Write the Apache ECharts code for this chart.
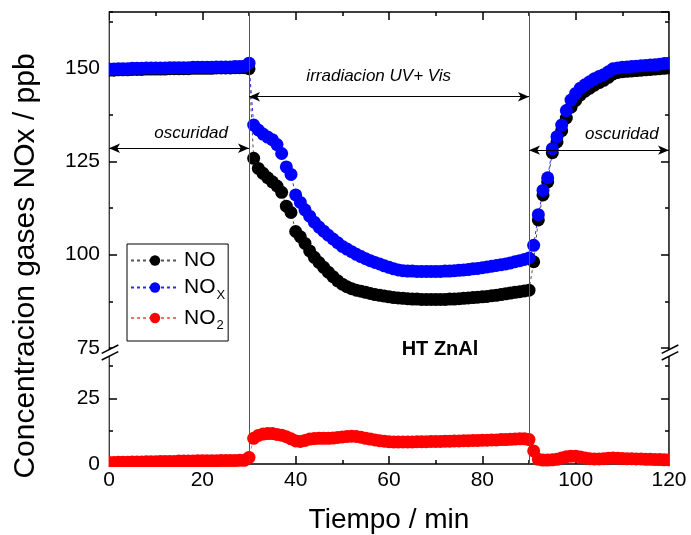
<!DOCTYPE html>
<html>
<head>
<meta charset="utf-8">
<script src="https://cdn.jsdelivr.net/npm/echarts@6/dist/echarts.min.js"></script>
<style>
html,body{margin:0;padding:0;background:#fff;}
#c{width:691px;height:535px;}
</style>
</head>
<body>
<div id="c"></div>
<script>
// Tiempo / min
const tiempo = [
  0,1,2,3,4,5,6,7,8,9,10,11,12,13,14,15,16,17,18,19,
  20,21,22,23,24,25,26,27,28,29,30,31,32,33,34,35,36,37,38,39,
  40,41,42,43,44,45,46,47,48,49,50,51,52,53,54,55,56,57,58,59,
  60,61,62,63,64,65,66,67,68,69,70,71,72,73,74,75,76,77,78,79,
  80,81,82,83,84,85,86,87,88,89,90,91,92,93,94,95,96,97,98,99,
  100,101,102,103,104,105,106,107,108,109,110,111,112,113,114,115,116,117,118,119,120
];
// NO / ppb
const no = [
  149.4,149.4,149.5,149.5,149.5,149.6,149.6,149.6,149.7,149.7,
  149.7,149.7,149.7,149.8,149.8,149.8,149.8,149.8,149.9,149.9,
  149.9,149.9,149.9,150.0,150.0,150.0,150.0,150.1,150.1,150.1,
  149.8,
  125.8,123.1,121.8,120.6,119.5,118.4,116.7,113.0,111.3,106.2,
  104.8,103.0,101.0,99.3,97.9,96.6,95.3,94.1,93.0,92.1,
  91.4,90.9,90.5,90.2,89.9,89.6,89.3,89.1,88.9,88.7,
  88.5,88.4,88.3,88.2,88.1,88.1,88.0,88.0,88.0,88.0,
  88.0,88.0,88.1,88.1,88.2,88.3,88.4,88.5,88.6,88.7,
  88.8,89.0,89.1,89.3,89.5,89.7,89.9,90.1,90.3,90.5,
  98.1,109.3,116.0,119.5,127.3,130.2,133.2,136.6,139.5,141.3,
  142.8,143.8,144.6,145.4,146.1,146.7,147.5,148.4,148.8,149.0,
  149.1,149.2,149.3,149.4,149.5,149.6,149.7,149.8,149.9,150.0
];
// NOx / ppb
const nox = [
  149.7,149.7,149.8,149.8,149.8,149.9,149.9,149.9,150.0,150.0,
  150.0,150.0,150.0,150.1,150.1,150.1,150.1,150.1,150.2,150.2,
  150.2,150.2,150.2,150.3,150.3,150.3,150.3,150.4,150.4,150.5,
  151.3,
  134.7,133.4,132.3,131.5,130.8,129.5,127.1,123.5,121.5,116.0,
  114.0,112.0,110.3,108.7,107.4,106.3,105.2,104.2,103.2,102.2,
  101.5,100.8,100.1,99.5,98.9,98.4,97.9,97.5,97.0,96.6,
  96.2,95.9,95.7,95.6,95.6,95.5,95.5,95.5,95.5,95.5,
  95.5,95.6,95.6,95.7,95.8,95.9,96.0,96.2,96.3,96.5,
  96.7,96.9,97.1,97.3,97.5,97.8,98.1,98.4,98.7,99.1,
  102.5,110.7,117.2,120.6,128.4,131.6,134.7,138.6,141.4,143.2,
  144.6,145.5,146.3,147.1,147.7,148.2,149.0,149.8,150.0,150.2,
  150.3,150.4,150.5,150.6,150.7,150.8,150.9,151.0,151.2,151.3
];
// NO2 / ppb
const no2 = [
  0.6,0.6,0.7,0.7,0.7,0.8,0.8,0.8,0.9,0.9,
  0.9,1.0,1.0,1.0,1.0,1.1,1.1,1.1,1.1,1.2,
  1.2,1.2,1.2,1.2,1.3,1.3,1.3,1.3,1.4,1.4,
  2.5,
  9.8,10.9,11.4,11.6,11.6,11.3,11.0,10.4,9.6,8.8,
  8.6,9.0,9.5,9.7,9.8,9.8,9.8,9.9,10.1,10.3,
  10.5,10.6,10.5,10.2,9.8,9.5,9.2,8.9,8.7,8.5,
  8.4,8.4,8.4,8.4,8.4,8.5,8.5,8.5,8.6,8.6,
  8.6,8.7,8.7,8.8,8.8,8.9,8.9,9.0,9.0,9.1,
  9.1,9.2,9.2,9.3,9.3,9.4,9.5,9.6,9.6,9.3,
  5.0,1.8,1.5,1.5,1.6,1.8,2.3,2.8,3.0,3.0,
  2.7,2.3,2.0,1.9,1.9,2.0,2.2,2.3,2.2,2.1,
  2.0,2.0,1.9,1.9,1.8,1.8,1.7,1.7,1.6,1.6
];
const xTicks = {min: 0, max: 120, interval: 20};
const upperRange = {min: 75, max: 165};
const lowerRange = {min: 0, max: 44.25};
const seriesNames = ['NO', 'NOx', 'NO2'];
const fases = {inicioUV: 30, finUV: 90};

const FONT = 'Liberation Sans, Arial, sans-serif';
const AX = {color: '#000', width: 1.5};

function xAxis(grid, pos, labels) {
  return {
    type: 'value', gridIndex: grid, position: pos,
    min: xTicks.min, max: xTicks.max, interval: xTicks.interval,
    axisLine: {show: true, onZero: false, lineStyle: AX},
    axisTick: {show: true, inside: true, length: 8, lineStyle: AX},
    minorTick: {show: true, splitNumber: 2, length: 4, lineStyle: AX},
    splitLine: {show: false},
    axisLabel: labels ? {show: true, fontSize: 21, color: '#000', fontFamily: FONT, margin: 6} : {show: false},
    name: labels ? 'Tiempo / min' : '',
    nameLocation: 'middle', nameGap: 42,
    nameTextStyle: {fontSize: 28, color: '#000', fontFamily: FONT}
  };
}
function yAxis(grid, range, pos, major, labels) {
  return {
    type: 'value', gridIndex: grid, position: pos,
    min: range.min, max: range.max, interval: major ? 25 : 12.5,
    axisLine: {show: major, onZero: false, lineStyle: AX},
    axisTick: {show: true, inside: true, length: major ? 8 : 4, lineStyle: AX},
    splitLine: {show: false},
    axisLabel: labels ? {show: true, fontSize: 21, color: '#000', fontFamily: FONT, margin: 9, showMaxLabel: false} : {show: false}
  };
}

const pts = arr => tiempo.map((t, i) => [t, arr[i]]);
const vline = (v) => ({xAxis: v, symbol: 'none', symbolSize: 0, lineStyle: {color: '#555', width: 1, type: 'solid'}});

const option = {
  animation: false,
  backgroundColor: '#fff',
  grid: [
    {left: 109, right: 22, top: 12, height: 336},
    {left: 109, right: 22, top: 348, height: 118}
  ],
  xAxis: [xAxis(0, 'top', false), xAxis(1, 'bottom', true)],
  yAxis: [
    yAxis(0, upperRange, 'left', true, true),
    yAxis(0, upperRange, 'left', false, false),
    yAxis(0, upperRange, 'right', true, false),
    yAxis(0, upperRange, 'right', false, false),
    yAxis(1, lowerRange, 'left', true, true),
    yAxis(1, lowerRange, 'left', false, false),
    yAxis(1, lowerRange, 'right', true, false),
    yAxis(1, lowerRange, 'right', false, false)
  ],
  legend: {
    data: seriesNames,
    orient: 'vertical', left: 127, top: 244,
    borderColor: '#000', borderWidth: 1, borderRadius: 0,
    padding: [6, 3, 9, 3], itemGap: 6,
    itemWidth: 48, itemHeight: 13,
    textStyle: {
      fontFamily: FONT, color: '#000', fontSize: 21,
      rich: {
        m: {fontSize: 21, fontFamily: FONT, color: '#000'},
        s: {fontSize: 13, fontFamily: FONT, color: '#000', padding: [15, 0, 0, 1]}
      }
    },
    formatter: n => n === 'NO' ? '{m|NO}' : (n === 'NOx' ? '{m|NO}{s|X}' : '{m|NO}{s|2}')
  },
  series: [
    {
      name: 'NO', type: 'line', xAxisIndex: 0, yAxisIndex: 0,
      data: pts(no), symbol: 'circle', symbolSize: 13, showAllSymbol: true,
      itemStyle: {color: '#000'},
      lineStyle: {color: '#555', width: 1, type: [3, 3]},
      emphasis: {disabled: true},
      markLine: {
        silent: true, animation: false,
        symbol: 'none',
        label: {show: false},
        data: [
          vline(fases.inicioUV), vline(fases.finUV),
          [{coord: [0, 128.5], symbol: 'arrow', symbolSize: [7, 11]}, {coord: [30, 128.5], symbol: 'arrow', symbolSize: [7, 11]}],
          [{coord: [30, 142.3], symbol: 'arrow', symbolSize: [7, 11]}, {coord: [90, 142.3], symbol: 'arrow', symbolSize: [7, 11]}],
          [{coord: [90, 128], symbol: 'arrow', symbolSize: [7, 11]}, {coord: [120, 128], symbol: 'arrow', symbolSize: [7, 11]}]
        ],
        lineStyle: {color: '#000', width: 1, type: 'solid'}
      },
      markPoint: {
        silent: true, animation: false,
        symbol: 'circle', symbolSize: 0,
        itemStyle: {color: 'rgba(0,0,0,0)'},
        label: {show: true, position: 'inside', color: '#000', fontStyle: 'italic', fontSize: 17, fontFamily: FONT},
        data: [
          {coord: [17.6, 132.4], label: {formatter: 'oscuridad'}},
          {coord: [57.8, 147.7], label: {formatter: 'irradiacion UV+ Vis'}},
          {coord: [109.9, 132.2], label: {formatter: 'oscuridad'}}
        ]
      }
    },
    {
      name: 'NOx', type: 'line', xAxisIndex: 0, yAxisIndex: 0,
      data: pts(nox), symbol: 'circle', symbolSize: 13, showAllSymbol: true,
      itemStyle: {color: '#0000ff'},
      lineStyle: {color: '#2a2aff', width: 1, type: [3, 3]},
      emphasis: {disabled: true}
    },
    {
      name: 'NO2', type: 'line', xAxisIndex: 1, yAxisIndex: 4,
      data: pts(no2), symbol: 'circle', symbolSize: 13, showAllSymbol: true,
      itemStyle: {color: '#ff0000'},
      lineStyle: {color: '#ff6b6b', width: 1, type: [3, 3]},
      emphasis: {disabled: true},
      markLine: {
        silent: true, animation: false, symbol: 'none', symbolSize: 0,
        label: {show: false},
        data: [vline(fases.inicioUV), vline(fases.finUV)]
      }
    }
  ],
  graphic: [
    // masks outside the plot frame (symbols clipped at the frame as in the original)
    {type: 'rect', z: 100, shape: {x: 101.5, y: 4, width: 7.1, height: 468}, style: {fill: '#fff'}},
    {type: 'rect', z: 100, shape: {x: 669.9, y: 4, width: 12, height: 468}, style: {fill: '#fff'}},
    {type: 'rect', z: 100, shape: {x: 100, y: 466.9, width: 582, height: 5}, style: {fill: '#fff'}},
    // axis break marks
    {type: 'polygon', z: 101, shape: {points: [[101.7, 353.3], [118.3, 345], [118.3, 351.7], [101.7, 360]]}, style: {fill: '#fff'}},
    {type: 'line', z: 102, shape: {x1: 101.7, y1: 353.3, x2: 118.3, y2: 345}, style: {stroke: '#000', lineWidth: 1.5}},
    {type: 'line', z: 102, shape: {x1: 101.7, y1: 360, x2: 118.3, y2: 351.7}, style: {stroke: '#000', lineWidth: 1.5}},
    {type: 'polygon', z: 101, shape: {points: [[661.7, 353.3], [678.3, 345], [678.3, 351.7], [661.7, 360]]}, style: {fill: '#fff'}},
    {type: 'line', z: 102, shape: {x1: 661.7, y1: 353.3, x2: 678.3, y2: 345}, style: {stroke: '#000', lineWidth: 1.5}},
    {type: 'line', z: 102, shape: {x1: 661.7, y1: 360, x2: 678.3, y2: 351.7}, style: {stroke: '#000', lineWidth: 1.5}},
    // texts
    {type: 'text', z: 103, x: 440, y: 349, style: {text: 'HT ZnAl', fontSize: 20, fontWeight: 'bold', fontFamily: FONT, fill: '#000', align: 'center', verticalAlign: 'middle'}},
    {type: 'text', z: 103, x: 26, y: 266, rotation: Math.PI / 2, style: {text: 'Concentracion gases NOx / ppb', fontSize: 30, fontFamily: FONT, fill: '#000', align: 'center', verticalAlign: 'middle'}}
  ]
};
const chart = echarts.init(document.getElementById('c'), null, {renderer: 'canvas'});
chart.setOption(option);
</script>
</body>
</html>
